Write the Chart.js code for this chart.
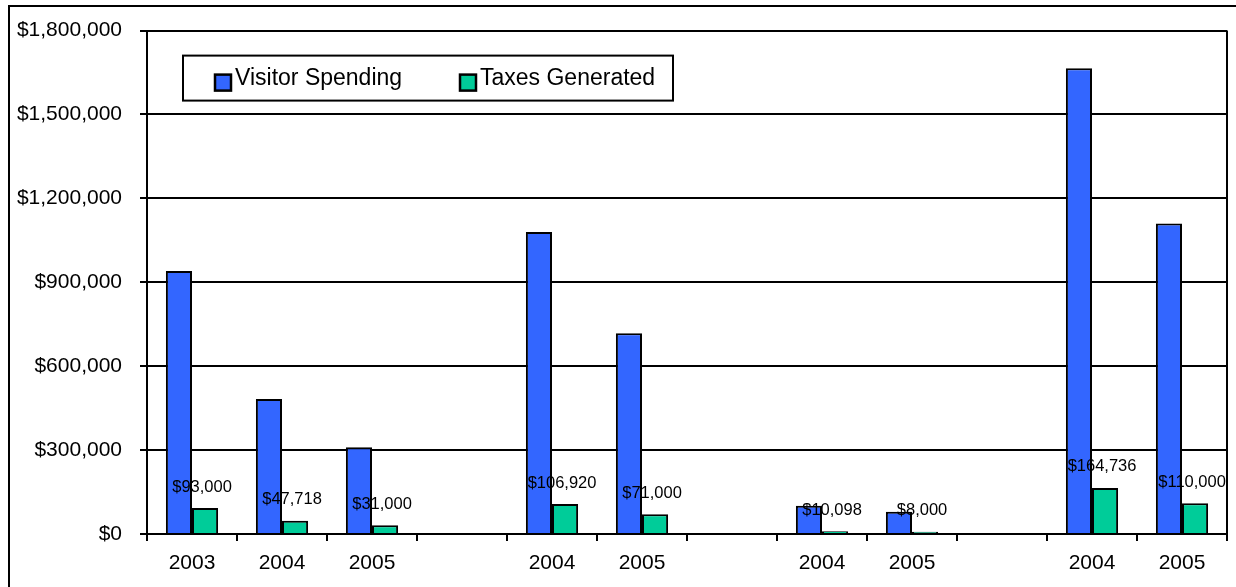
<!DOCTYPE html>
<html>
<head>
<meta charset="utf-8">
<title>Visitor Spending and Taxes Generated</title>
<script src="https://cdn.jsdelivr.net/npm/chart.js@4"></script>
<style>
  html, body { margin: 0; padding: 0; background: #fff; }
  canvas { display: block; }
</style>
</head>
<body>
<canvas id="chart" width="1236" height="587"></canvas>
<script>
// ================= DATA =================
const years = ["2003", "2004", "2005", "", "2004", "2005", "", "2004", "2005", "", "2004", "2005"];
const visitorSpending = [940000, 483000, 310000, null, 1080000, 718000, null, 101000, 80000, null, 1665000, 1110000];
const taxesGenerated = [93000, 47718, 31000, null, 106920, 71000, null, 10098, 8000, null, 164736, 110000];
const seriesNames = ["Visitor Spending", "Taxes Generated"];

// ================= STYLE =================
const FONT = '"Liberation Sans", Arial, sans-serif';
const BLUE = "#3366FF";
const GREEN = "#00CC99";

const money = v => "$" + v.toLocaleString("en-US");

// Outer frame and right edge of the plot box
const framePlugin = {
    id: "frame",
    beforeDraw(chart) {
        const ctx = chart.ctx;
        ctx.save();
        ctx.fillStyle = "#fff";
        ctx.fillRect(0, 0, chart.width, chart.height);
        ctx.strokeStyle = "#000";
        ctx.lineWidth = 2;
        ctx.strokeRect(9, 6, chart.width + 20, chart.height + 20);
        ctx.restore();
    },
    afterDraw(chart) {
        const ctx = chart.ctx;
        const a = chart.chartArea;
        ctx.save();
        ctx.strokeStyle = "#000";
        ctx.lineWidth = 2;
        ctx.beginPath();
        ctx.moveTo(a.right, a.top);
        ctx.lineTo(a.right, a.bottom);
        ctx.stroke();
        ctx.restore();
    }
};

// Dollar labels above the tax bars
const taxLabels = {
    id: "taxLabels",
    afterDatasetsDraw(chart) {
        const ctx = chart.ctx;
        const meta = chart.getDatasetMeta(1);
        ctx.save();
        ctx.font = "16.5px " + FONT;
        ctx.fillStyle = "#000";
        ctx.textAlign = "center";
        ctx.textBaseline = "middle";
        meta.data.forEach((bar, i) => {
            const v = chart.data.datasets[1].data[i];
            if (v == null) return;
            ctx.fillText(money(v), bar.x - 3, bar.y - 21);
        });
        ctx.restore();
    }
};

// Boxed legend sitting inside the plot
const boxLegend = {
    id: "boxLegend",
    afterDraw(chart) {
        const ctx = chart.ctx;
        const a = chart.chartArea;
        const left = a.left + 36, top = a.top + 25;
        const offsets = [32, 277];
        ctx.save();
        ctx.fillStyle = "#fff";
        ctx.fillRect(left, top, 490, 45);
        ctx.strokeStyle = "#000";
        ctx.lineWidth = 2;
        ctx.strokeRect(left, top, 490, 45);
        ctx.font = "23px " + FONT;
        ctx.textBaseline = "alphabetic";
        ctx.textAlign = "left";
        chart.data.datasets.forEach((ds, i) => {
            const x = left + offsets[i];
            ctx.fillStyle = ds.backgroundColor;
            ctx.fillRect(x, top + 19, 16, 16);
            ctx.lineWidth = 2.5;
            ctx.strokeRect(x, top + 19, 16, 16);
            ctx.fillStyle = "#000";
            ctx.fillText(ds.label, x + 20, top + 29);
        });
        ctx.restore();
    }
};

// ================= CHART =================
const ctx = document.getElementById("chart").getContext("2d");
new Chart(ctx, {
    type: "bar",
    data: {
        labels: years,
        datasets: [
            {
                label: seriesNames[0],
                data: visitorSpending,
                backgroundColor: BLUE,
                borderColor: "#000",
                borderWidth: 2
            },
            {
                label: seriesNames[1],
                data: taxesGenerated,
                backgroundColor: GREEN,
                borderColor: "#000",
                borderWidth: 2
            }
        ]
    },
    options: {
        responsive: false,
        animation: false,
        devicePixelRatio: 1,
        categoryPercentage: 0.58,
        barPercentage: 1.0,
        layout: {
            padding: { left: 10, top: 28, right: 9, bottom: 0 }
        },
        plugins: {
            legend: { display: false },
            tooltip: { enabled: false }
        },
        scales: {
            x: {
                grid: {
                    offset: true,
                    drawOnChartArea: false,
                    drawTicks: true,
                    tickLength: 7,
                    color: "#000",
                    lineWidth: 2
                },
                border: { color: "#000", width: 2 },
                ticks: {
                    color: "#000",
                    font: { family: FONT, size: 21 },
                    padding: 10,
                    maxRotation: 0,
                    autoSkip: false
                },
                afterFit(scale) { scale.height = 53; }
            },
            y: {
                min: 0,
                max: 1800000,
                grid: {
                    color: "#000",
                    lineWidth: 2,
                    drawTicks: true,
                    tickLength: 7
                },
                border: { color: "#000", width: 2 },
                ticks: {
                    stepSize: 300000,
                    color: "#000",
                    font: { family: FONT, size: 21 },
                    padding: 18,
                    callback: v => money(v)
                },
                afterFit(scale) { scale.width = 137; }
            }
        }
    },
    plugins: [framePlugin, taxLabels, boxLegend]
});
</script>
</body>
</html>
